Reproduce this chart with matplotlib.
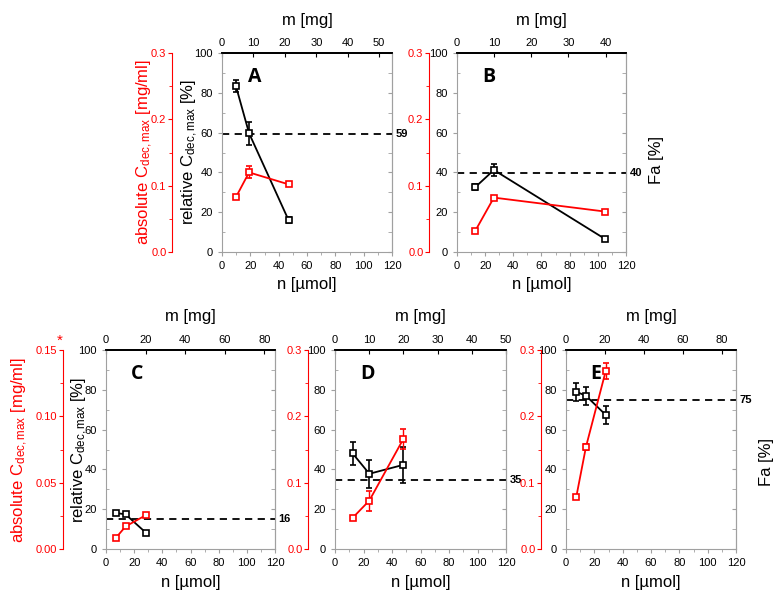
import numpy as np
import matplotlib.pyplot as plt
from matplotlib.ticker import MultipleLocator

plt.rcParams['font.family'] = ['Liberation Sans', 'DejaVu Sans']
plt.rcParams['mathtext.fontset'] = 'custom'
plt.rcParams['mathtext.rm'] = 'Liberation Sans'
plt.rcParams['mathtext.it'] = 'Liberation Sans:italic'

# data per panel: n [umol], relative C (%), abs C (mg/ml)
n_A = [9.9, 19.1, 47]
rel_A = [83.2, 59.7, 16]
rel_err_A = [3, 5.7, 1.5]
abs_A = [0.083, 0.12, 0.102]
abs_err_A = [0, 0.009, 0]

n_B = [13, 26.2, 105]
rel_B = [32.6, 41.2, 6.6]
rel_err_B = [1.5, 3, 1]
abs_B = [0.032, 0.082, 0.061]
abs_err_B = [0, 0, 0]

n_C = [7.1, 13.9, 28.3]
rel_C = [18.1, 17.4, 8.2]
rel_err_C = [0.8, 0.8, 0.8]
abs_C = [0.0085, 0.017, 0.0255]
abs_err_C = [0, 0, 0]

n_D = [12.4, 24.1, 48]
rel_D = [48, 37.8, 42.3]
rel_err_D = [6, 7, 9]
abs_D = [0.047, 0.073, 0.166]
abs_err_D = [0, 0.015, 0.015]

n_E = [7.3, 14.1, 28]
rel_E = [79, 77, 67.4]
rel_err_E = [4.5, 4.5, 4.5]
abs_E = [0.079, 0.154, 0.268]
abs_err_E = [0, 0.0045, 0.012]

fa_line = [59.5, 39.7, 15, 34.5, 74.7]
fa_label = ['59', '40', '16', '35', '75']
letters = ['A', 'B', 'C', 'D', 'E']
m_max = [54.1, 45.5, 85.4, 50, 87.2]
m_step = [10, 10, 20, 10, 20]
abs_max = [0.3, 0.3, 0.15, 0.3, 0.3]

W, H = 781, 599
fig = plt.figure(figsize=(W / 100, H / 100), dpi=100)

# axes boxes in pixels: left, right, top, bottom, red spine offset (px)
boxes = [(222, 392, 53, 252, 50), (457, 626, 53, 252, 28),
         (106, 275, 350, 549, 43), (335, 506, 350, 549, 27),
         (566, 736, 350, 549, 25)]
letter_pos = [(18, 88), (18, 88), (18, 88), (18, 88), (17, 88)]

grey = '#a0a0a0'
red = '#ff0000'
panels = [(n_A, rel_A, rel_err_A, abs_A, abs_err_A),
          (n_B, rel_B, rel_err_B, abs_B, abs_err_B),
          (n_C, rel_C, rel_err_C, abs_C, abs_err_C),
          (n_D, rel_D, rel_err_D, abs_D, abs_err_D),
          (n_E, rel_E, rel_err_E, abs_E, abs_err_E)]

for i, (n, rel, rel_err, absv, abs_err) in enumerate(panels):
    l, r, t, b, off = boxes[i]
    ax = fig.add_axes([l / W, 1 - b / H, (r - l) / W, (b - t) / H])
    ax.set_xlim(0, 120)
    ax.set_ylim(0, 100)
    ax.xaxis.set_major_locator(MultipleLocator(20))
    ax.xaxis.set_minor_locator(MultipleLocator(10))
    ax.yaxis.set_major_locator(MultipleLocator(20))
    ax.yaxis.set_minor_locator(MultipleLocator(10))
    for s in ['left', 'right', 'bottom']:
        ax.spines[s].set_color(grey)
    ax.spines['top'].set_color('black')
    ax.spines['top'].set_linewidth(1.3)
    ax.tick_params(which='both', labelsize=8, color=grey, direction='out')
    ax.tick_params(which='major', length=3)
    ax.tick_params(which='minor', length=2)
    ax.tick_params(axis='y', which='minor', direction='in')

    # right side ticks pointing inward
    sec = ax.secondary_yaxis('right')
    sec.yaxis.set_major_locator(MultipleLocator(20))
    sec.yaxis.set_minor_locator(MultipleLocator(10))
    sec.tick_params(which='both', direction='in', labelright=False, color=grey, length=3)
    sec.spines['right'].set_color(grey)

    # top axis in mg
    k = m_max[i] / 120
    top = ax.secondary_xaxis('top', functions=(lambda x, k=k: x * k, lambda x, k=k: x / k))
    top.xaxis.set_major_locator(MultipleLocator(m_step[i]))
    top.tick_params(direction='in', labelsize=8, length=3, color='black')
    top.spines['top'].set_color('black')
    top.spines['top'].set_linewidth(1.3)

    ax.axhline(fa_line[i], color='black', ls=(0, (4, 3)), lw=1.3)
    ax.text(1.02, fa_line[i], fa_label[i], transform=ax.get_yaxis_transform(),
            fontsize=8, fontweight='bold', va='center', ha='left')

    ax.errorbar(n, rel, yerr=rel_err, color='black', marker='s', ms=5, mfc='white',
                mec='black', mew=1.2, lw=1.3, capsize=2, elinewidth=1.2, zorder=3)

    ax2 = ax.twinx()
    ax2.set_ylim(0, abs_max[i])
    for s in ['right', 'top', 'bottom']:
        ax2.spines[s].set_visible(False)
    ax2.spines['left'].set_visible(True)
    ax2.spines['left'].set_position(('outward', off * 0.72))
    ax2.spines['left'].set_color(red)
    ax2.yaxis.set_ticks_position('left')
    ax2.yaxis.set_label_position('left')
    if abs_max[i] == 0.15:
        ax2.yaxis.set_major_locator(MultipleLocator(0.05))
        ax2.yaxis.set_major_formatter(plt.FormatStrFormatter('%.2f'))
        ax2.yaxis.set_minor_locator(MultipleLocator(0.025))
    else:
        ax2.yaxis.set_major_locator(MultipleLocator(0.1))
        ax2.yaxis.set_major_formatter(plt.FormatStrFormatter('%.1f'))
        ax2.yaxis.set_minor_locator(MultipleLocator(0.05))
    ax2.tick_params(which='both', colors=red, labelsize=8, direction='out',
                    left=True, labelleft=True, right=False, labelright=False, pad=1)
    ax2.tick_params(which='major', length=3)
    ax2.tick_params(which='minor', length=2)
    ax2.errorbar(n, absv, yerr=abs_err, color=red, marker='s', ms=5, mfc='white',
                 mec=red, mew=1.2, lw=1.3, capsize=2, elinewidth=1.0, zorder=3)

    ax.text(letter_pos[i][0], letter_pos[i][1], letters[i], fontsize=14,
            fontweight='bold', family=['Open Sans', 'DejaVu Sans'], va='center', zorder=5)

    cx = (l + r) / 2
    fig.text(cx / W, 1 - (t - 33) / H, 'm [mg]', fontsize=12, ha='center', va='center')
    fig.text(cx / W, 1 - (b + 33) / H, 'n [µmol]', fontsize=12, ha='center', va='center')

# y labels
rel_lab = r'relative C$_{\mathrm{dec,max}}$ [%]'
abs_lab = r'absolute C$_{\mathrm{dec,max}}$ [mg/ml]'
fig.text(190 / W, 1 - 152 / H, rel_lab, fontsize=12, rotation=90, ha='center', va='center')
fig.text(145 / W, 1 - 152 / H, abs_lab, fontsize=12, rotation=90, ha='center', va='center', color=red)
fig.text(80 / W, 1 - 450 / H, rel_lab, fontsize=12, rotation=90, ha='center', va='center')
fig.text(20 / W, 1 - 450 / H, abs_lab, fontsize=12, rotation=90, ha='center', va='center', color=red)
fig.text(60 / W, 1 - 341 / H, '*', fontsize=11, ha='center', va='center', color=red)
fig.text(657 / W, 1 - 160 / H, 'Fa [%]', fontsize=12, rotation=90, ha='center', va='center')
fig.text(767 / W, 1 - 462 / H, 'Fa [%]', fontsize=12, rotation=90, ha='center', va='center')

fig.savefig('out.png', dpi=100)
